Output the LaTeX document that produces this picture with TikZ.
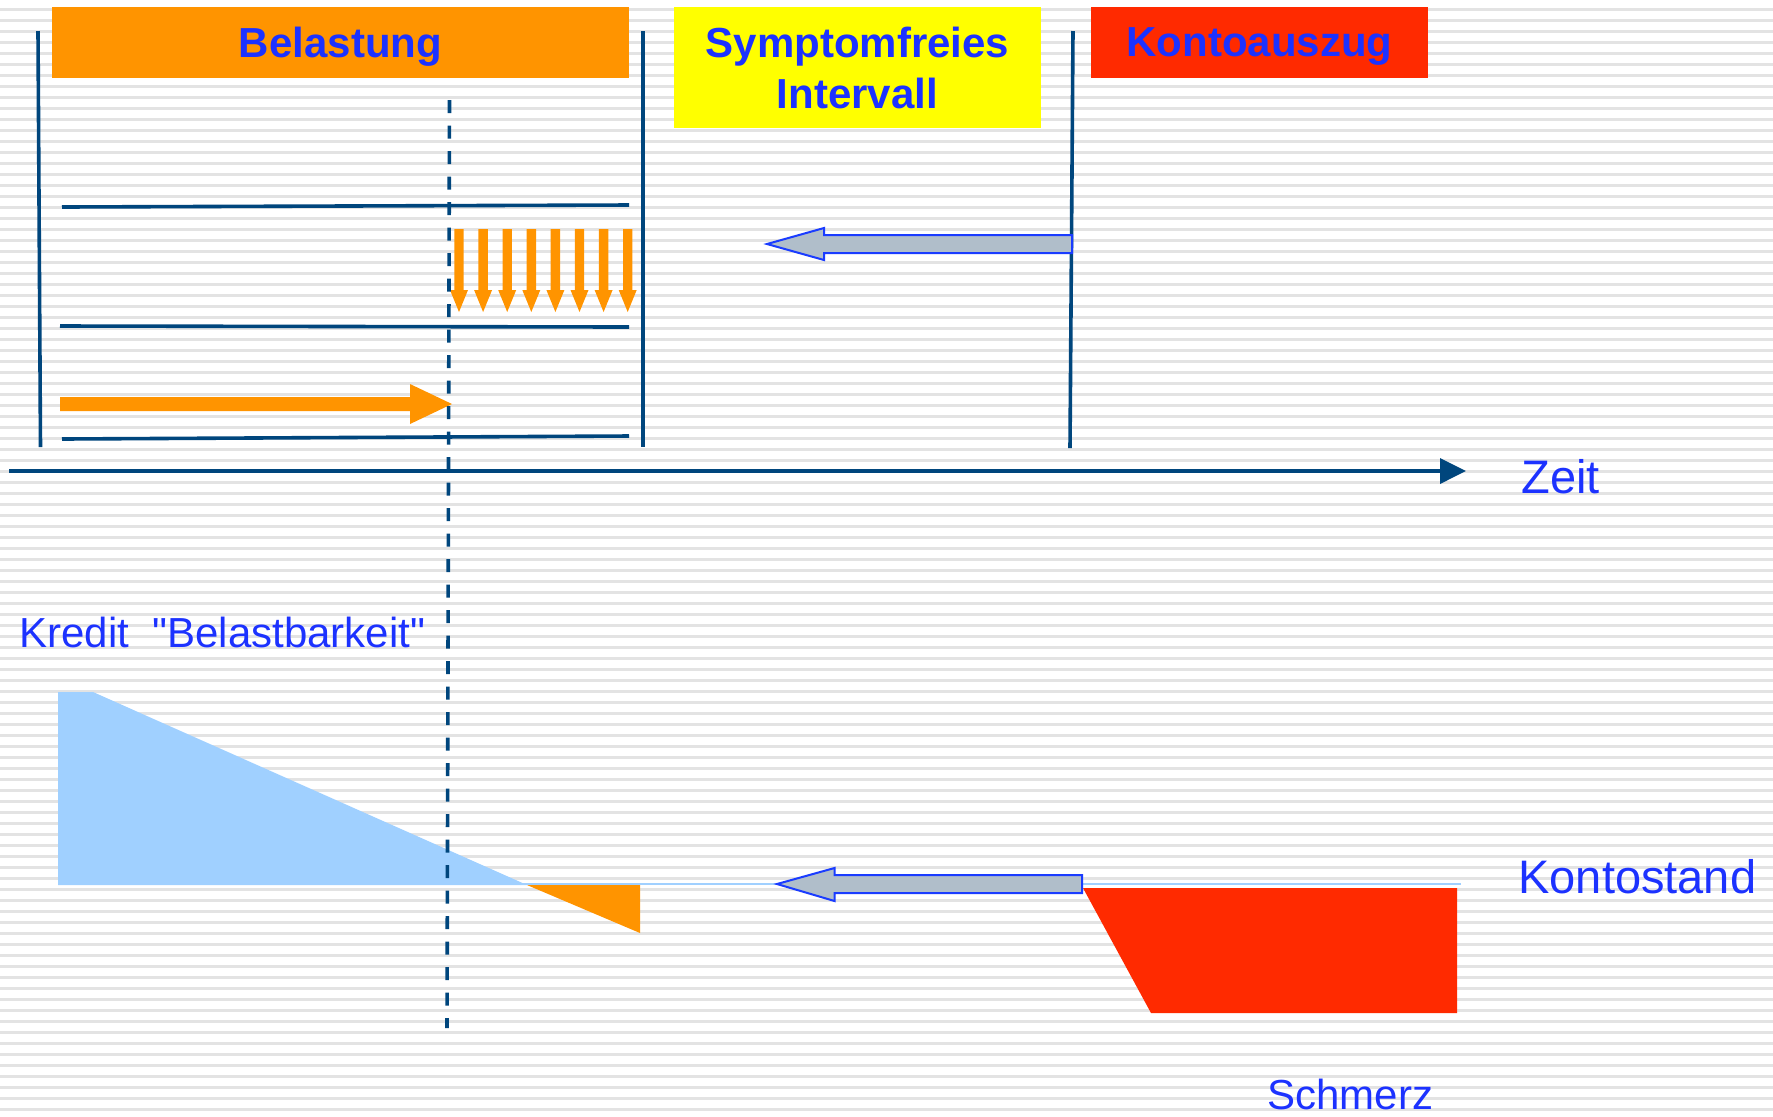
\documentclass[tikz,border=0pt]{standalone}
\usepackage{fontspec}
\setmainfont{Liberation Sans}[Ligatures=TeXOff]
\usetikzlibrary{positioning,arrows.meta}

\definecolor{lineblue}{RGB}{0,70,125}
\definecolor{txtblue}{RGB}{28,50,255}
\definecolor{boxorange}{RGB}{255,148,0}
\definecolor{boxred}{RGB}{255,42,0}
\definecolor{boxyellow}{RGB}{255,255,0}
\definecolor{kreditblue}{RGB}{160,208,255}
\definecolor{arrowgray}{RGB}{176,190,202}
\definecolor{arrowedge}{RGB}{26,60,255}
\definecolor{stripegray}{RGB}{227,227,227}

\begin{document}
\begin{tikzpicture}[x=0.5pt,y=-0.5pt,
  every node/.style={inner sep=0pt},
  titlebox/.style={font=\fontsize{21}{25.5}\selectfont\bfseries, text=txtblue, text depth=0pt, align=center},
  biglabel/.style={font=\fontsize{23.5}{28}\selectfont, text=txtblue, text depth=0pt},
  smalllabel/.style={font=\fontsize{21}{26}\selectfont, text=txtblue},
  frame/.style={draw=lineblue, line width=1.8pt},
  blockarrow/.style={fill=arrowgray, draw=arrowedge, line width=1pt, line join=miter}]
  \useasboundingbox (0,0) rectangle (1773,1116);
  \fill[white] (0,0) rectangle (1773,1116);
  \foreach \k in {0,...,100}
    \fill[stripegray] (0,{7.5+11*\k}) rectangle (1773,{10.5+11*\k});

  % phases
  \node[titlebox, fill=boxorange, minimum width=288.5pt, minimum height=35.5pt] (belastung) at (340.5,42.5) {Belastung};
  \node[titlebox, fill=boxyellow, minimum width=183.5pt, minimum height=60.5pt] (intervall) at (857.5,67.5) {Symptomfreies\\Intervall};
  \node[titlebox, fill=boxred, minimum width=168.5pt, minimum height=35.5pt] (auszug) at (1259.5,42.5) {Kontoauszug};

  \draw[frame] (38,31) -- (40.5,447);
  \draw[frame] (643,31) -- (643,447);
  \draw[frame] (1073,31) -- (1070,448);

  \draw[frame] (62,207) -- (629,205);
  \draw[frame] (60,326) -- (629,327);
  \draw[frame] (62,439) -- (629,436);

  % load
  \fill[boxorange] (60,397) -- (410,397) -- (410,384) -- (452,404) -- (410,424) -- (410,411) -- (60,411) -- cycle;
  \foreach \i in {0,...,7}{
    \pgfmathsetmacro\ax{459+24.1*\i}
    \fill[boxorange] (\ax-4.7,229) -- (\ax+4.7,229) -- (\ax+4.7,290) -- (\ax+9,290)
      -- (\ax,312) -- (\ax-9,290) -- (\ax-4.7,290) -- cycle;
  }

  \fill[blockarrow] (767,244) -- (824,228) -- (824,235) -- (1072,235) -- (1072,253) -- (824,253) -- (824,260) -- cycle;

  % time axis
  \coordinate (tstart) at (9,471);
  \coordinate (tend) at (1466,471);
  \draw[frame, -{Triangle[length=13pt,width=12.5pt]}] (tstart) -- (tend);
  \node[biglabel, right=27.5pt of tend, yshift=-2.6pt] (zeit) {Zeit};

  % account
  \coordinate (kstart) at (58,884);
  \coordinate (kend) at (1461,884);
  \draw[kreditblue, line width=1pt] (kstart) -- (kend);
  \fill[kreditblue] (58,692) -- (93,692) -- (527,885) -- (58,885) -- cycle;
  \fill[boxorange] (527,885) -- (640,885) -- (640,933) -- cycle;
  \fill[boxred] (1083,888) -- (1457,888) -- (1457,1013) -- (1151,1013) -- cycle;
  \fill[blockarrow] (777,884) -- (834.5,868) -- (834.5,875) -- (1082,875) -- (1082,893) -- (834.5,893) -- (834.5,901) -- cycle;

  \node[smalllabel, anchor=base west] (kredit) at (19,647) {Kredit\ \ "Belastbarkeit"};
  \node[biglabel, right=28.5pt of kend, yshift=4pt] (kontostand) {Kontostand};
  \node[smalllabel, anchor=base west] (schmerz) at (1267,1109) {Schmerz};

  \coordinate (dtop) at (449.5,100);
  \coordinate (dbot) at (447,1028);
  \draw[frame, dash pattern=on 6.5pt off 6.25pt] (dtop) -- (dbot);
\end{tikzpicture}
\end{document}
